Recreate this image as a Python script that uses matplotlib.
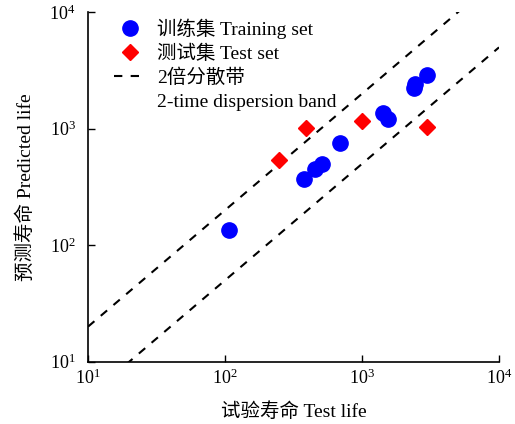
import numpy as np
import matplotlib.pyplot as plt

# values (cycles)
train_test = [106, 375, 451, 506, 693, 1419, 1542, 2400, 2450, 2999]
train_pred = [134, 367, 447, 502, 760, 1374, 1222, 2250, 2400, 2912]
test_test = [248, 387, 1000, 3000]
test_pred = [543, 1021, 1173, 1042]
band_x = [10, 10000]
x_ticks = [10, 100, 1000, 10000]
x_ticklabels = ["$10^{1}$", "$10^{2}$", "$10^{3}$", "$10^{4}$"]

plt.rcParams["font.family"] = ["Liberation Serif", "Noto Sans CJK SC"]
plt.rcParams["mathtext.fontset"] = "custom"
plt.rcParams["mathtext.rm"] = "Liberation Serif"
plt.rcParams["mathtext.it"] = "Liberation Serif"


def main() -> None:
    fig = plt.figure(figsize=(5.15, 4.24), dpi=100)
    ax = fig.add_axes([0.171, 0.147, 0.798, 0.824])

    ax.plot(train_test, train_pred, "o", color="#0000ff", markersize=11,
            linestyle="none", label="训练集 Training set", zorder=3)
    ax.plot(test_test, test_pred, "D", color="#ff0000", markersize=8,
            linestyle="none", label="测试集 Test set", zorder=3)
    bx = np.array(band_x, dtype=float)
    ax.plot(bx, 2 * bx, "--", color="black", linewidth=1.5, dashes=(4, 4),
            label="2倍分散带")
    ax.plot(bx, bx / 2, "--", color="black", linewidth=1.5, dashes=(4, 4))
    # second legend line, no handle
    ax.plot([], [], linestyle="none", label="2-time dispersion band")

    ax.set_xscale("log")
    ax.set_yscale("log")
    ax.set_xlim(10, 10000)
    ax.set_ylim(10, 10000)
    ax.set_xticks(x_ticks)
    ax.set_xticklabels(x_ticklabels)
    ax.set_yticks(x_ticks)
    ax.set_yticklabels(x_ticklabels)
    ax.minorticks_off()
    ax.tick_params(direction="in", length=5, width=1, labelsize=13)
    ax.tick_params(axis="y", pad=9)
    ax.tick_params(axis="x", pad=5)
    for side in ("top", "right"):
        ax.spines[side].set_visible(False)
    ax.spines["left"].set_linewidth(1.2)
    ax.spines["bottom"].set_linewidth(1.2)

    ax.set_xlabel("试验寿命 Test life", fontsize=14, labelpad=10)
    ax.set_ylabel("预测寿命 Predicted life", fontsize=14, labelpad=10)

    ax.legend(loc="upper left", frameon=False, fontsize=14,
              bbox_to_anchor=(0.034, 1.016), handlelength=1.65,
              handletextpad=0.6, labelspacing=0.3, borderaxespad=0.2)

    fig.savefig("out.png", dpi=100)


if __name__ == "__main__":
    main()
